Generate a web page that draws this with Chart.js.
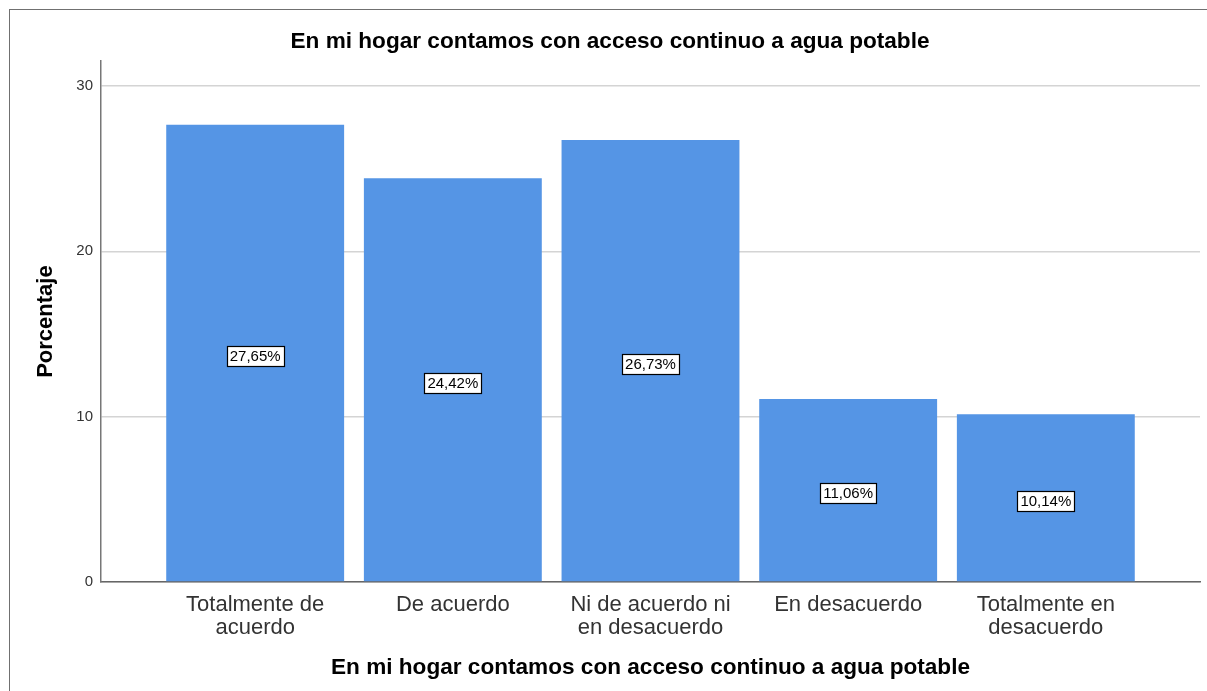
<!DOCTYPE html>
<html>
<head>
<meta charset="utf-8">
<script src="https://cdn.jsdelivr.net/npm/chart.js@4.4.1/dist/chart.umd.min.js"></script>
<style>
  html, body { margin: 0; padding: 0; background: #fff; overflow: hidden; }
  #frame { position: absolute; left: 9px; top: 9px; width: 1300px; height: 800px; border: 1px solid #707070; }
  #wrap { position: absolute; left: 0; top: 0; width: 1207px; height: 691px; }
</style>
</head>
<body>
<div id="frame"></div>
<div id="wrap"><canvas id="chart" width="1207" height="691"></canvas></div>
<script>
// categories and values (percent)
const categories = [
    ['Totalmente de', 'acuerdo'],
    ['De acuerdo'],
    ['Ni de acuerdo ni', 'en desacuerdo'],
    ['En desacuerdo'],
    ['Totalmente en', 'desacuerdo']
];
const percentages = [27.65, 24.42, 26.73, 11.06, 10.14];
const valueLabels = ['27,65%', '24,42%', '26,73%', '11,06%', '10,14%'];
const yTicks = [0, 10, 20, 30];

const chartTitle = 'En mi hogar contamos con acceso continuo a agua potable';
const FONT = '"Liberation Sans", Arial, sans-serif';

// boxed value labels in the middle of each bar
const boxLabels = {
    id: 'boxLabels',
    afterDatasetsDraw(chart) {
        const ctx = chart.ctx;
        const meta = chart.getDatasetMeta(0);
        ctx.save();
        ctx.font = '15px ' + FONT;
        ctx.textAlign = 'center';
        ctx.textBaseline = 'middle';
        meta.data.forEach((bar, i) => {
            const cy = (bar.y + bar.base) / 2 + 3;
            const w = Math.round(ctx.measureText(valueLabels[i]).width + 6);
            const h = 20;
            const x0 = Math.round(bar.x - w / 2) + 0.5;
            const y0 = Math.round(cy - h / 2) + 0.5;
            ctx.fillStyle = '#ffffff';
            ctx.fillRect(x0, y0, w, h);
            ctx.strokeStyle = '#000000';
            ctx.lineWidth = 1.2;
            ctx.strokeRect(x0, y0, w, h);
            ctx.fillStyle = '#000000';
            ctx.fillText(valueLabels[i], bar.x, cy + 1);
        });
        ctx.restore();
    }
};

const ctx = document.getElementById('chart').getContext('2d');
new Chart(ctx, {
    type: 'bar',
    data: {
        datasets: [{
            data: percentages.map((v, i) => ({ x: i, y: v })),
            backgroundColor: '#5595e5',
            borderWidth: 0,
            barPercentage: 0.9,
            categoryPercentage: 1.0
        }]
    },
    options: {
        responsive: false,
        animation: false,
        layout: { padding: { left: 20, right: 7, top: 0, bottom: 0 } },
        plugins: {
            legend: { display: false },
            tooltip: { enabled: false },
            title: {
                display: true,
                text: chartTitle,
                color: '#000',
                font: { family: FONT, size: 22.6, weight: 'bold', lineHeight: 1.2 },
                padding: { top: 28, bottom: 6 }
            }
        },
        scales: {
            x: {
                type: 'linear',
                offset: false,
                min: -0.78,
                max: 4.78,
                afterFit: (scale) => { scale.height = 109; },
                grid: { display: false, drawTicks: false },
                border: { display: true, color: '#666', width: 1.5 },
                ticks: {
                    stepSize: 1,
                    includeBounds: false,
                    autoSkip: false,
                    maxRotation: 0,
                    padding: 11,
                    color: '#333',
                    font: { family: FONT, size: 22, lineHeight: 1.05 },
                    callback: (v) => Number.isInteger(v) && categories[v] ? categories[v] : ''
                },
                title: {
                    display: true,
                    text: chartTitle,
                    color: '#000',
                    font: { family: FONT, size: 22.6, weight: 'bold', lineHeight: 1.2 },
                    padding: { top: 0, bottom: 10 }
                }
            },
            y: {
                min: 0,
                max: 31.5,
                afterFit: (scale) => { scale.width = 81; },
                afterBuildTicks: (scale) => { scale.ticks = yTicks.map(v => ({ value: v })); },
                grid: { color: '#d4d4d4', lineWidth: 1.5, drawTicks: false },
                border: { display: true, color: '#777', width: 1.5 },
                ticks: {
                    padding: 8,
                    color: '#333',
                    font: { family: FONT, size: 15 }
                },
                title: {
                    display: true,
                    text: 'Porcentaje',
                    color: '#000',
                    font: { family: FONT, size: 22, weight: 'bold', lineHeight: 1.2 },
                    padding: { top: 13, bottom: 0 }
                }
            }
        }
    },
    plugins: [boxLabels]
});
</script>
</body>
</html>
